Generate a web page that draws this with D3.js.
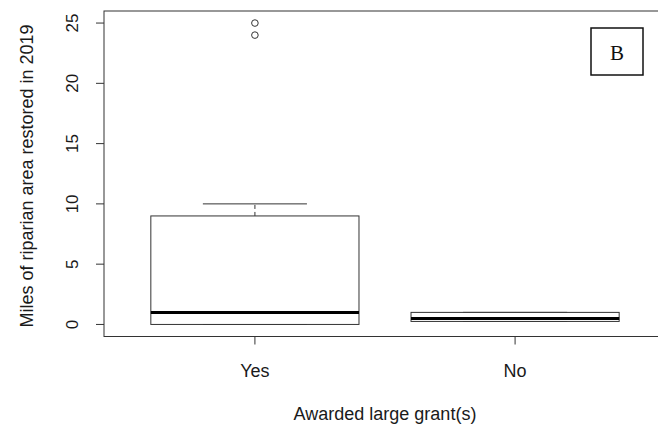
<!DOCTYPE html>
<html><head><meta charset="utf-8">
<script src="https://cdn.jsdelivr.net/npm/d3@7"></script>
<style>body{margin:0;background:#fff}svg{display:block}text{font-family:"Liberation Sans",Arial,sans-serif}</style>
</head><body><svg id="c" width="658" height="430"></svg>
<script>
const categories = ["Yes", "No"];
const lowerWhisker = [0, 0.25];
const q1 = [0, 0.25];
const median = [1, 0.5];
const q3 = [9, 1];
const upperWhisker = [10, 1];
const outliers = [[25, 24], []];
const yTicks = [0, 5, 10, 15, 20, 25];

(function () {
const svg = d3.select("#c");
const pL = 104, pR = 666, pT = 11, pB = 336.5;
const x = d3.scaleLinear().domain([0.42, 2.58]).range([pL, pR]);
const y = d3.scaleLinear().domain([-1, 26]).range([pB, pT]);
const col = "#333";
const txt = "#1a1a1a";
const fs = 18;
const bw = 0.8;

categories.forEach((c, i) => {
  const xc = i + 1;
  const g = svg.append("g");
  g.append("line").attr("x1", x(xc)).attr("x2", x(xc)).attr("y1", y(q3[i])).attr("y2", y(upperWhisker[i]))
    .attr("stroke", col).attr("stroke-dasharray", "4,3");
  g.append("line").attr("x1", x(xc)).attr("x2", x(xc)).attr("y1", y(q1[i])).attr("y2", y(lowerWhisker[i]))
    .attr("stroke", col).attr("stroke-dasharray", "4,3");
  [lowerWhisker[i], upperWhisker[i]].forEach(v => {
    g.append("line").attr("x1", x(xc - bw / 4)).attr("x2", x(xc + bw / 4)).attr("y1", y(v)).attr("y2", y(v))
      .attr("stroke", col);
  });
  g.append("rect").attr("x", x(xc - bw / 2)).attr("width", x(xc + bw / 2) - x(xc - bw / 2))
    .attr("y", y(q3[i])).attr("height", y(q1[i]) - y(q3[i]))
    .attr("fill", "#fff").attr("stroke", col);
  g.append("line").attr("x1", x(xc - bw / 2)).attr("x2", x(xc + bw / 2)).attr("y1", y(median[i])).attr("y2", y(median[i]))
    .attr("stroke", "#000").attr("stroke-width", 3);
  g.selectAll("circle").data(outliers[i]).join("circle")
    .attr("cx", x(xc)).attr("cy", d => y(d)).attr("r", 3.3)
    .attr("fill", "none").attr("stroke", col);
});

svg.append("rect").attr("x", pL).attr("y", pT).attr("width", pR - pL).attr("height", pB - pT)
  .attr("fill", "none").attr("stroke", col);

const ya = svg.append("g").attr("transform", `translate(${pL},0)`);
yTicks.forEach(t => {
  ya.append("line").attr("x1", 0).attr("x2", -8).attr("y1", y(t)).attr("y2", y(t)).attr("stroke", col);
  ya.append("text").attr("transform", `translate(-26,${y(t)}) rotate(-90)`).attr("text-anchor", "middle")
    .attr("font-size", fs - 1).attr("fill", txt).text(t);
});

categories.forEach((c, i) => {
  svg.append("line").attr("x1", x(i + 1)).attr("x2", x(i + 1)).attr("y1", pB).attr("y2", pB + 8).attr("stroke", col);
  svg.append("text").attr("x", x(i + 1)).attr("y", 377).attr("text-anchor", "middle")
    .attr("font-size", fs).attr("fill", txt).text(c);
});

svg.append("text").attr("x", 385).attr("y", 420).attr("text-anchor", "middle").attr("font-size", fs).attr("fill", txt)
  .text("Awarded large grant(s)");
svg.append("text").attr("transform", `translate(33,176) rotate(-90)`).attr("text-anchor", "middle")
  .attr("font-size", fs).attr("fill", txt).text("Miles of riparian area restored in 2019");

svg.append("rect").attr("x", 591).attr("y", 28).attr("width", 52).attr("height", 47).attr("fill", "#fff").attr("stroke", "#111").attr("stroke-width", 1.5);
svg.append("text").attr("x", 617).attr("y", 59.5).attr("text-anchor", "middle").attr("font-size", 21)
  .style("font-family", "'Liberation Serif','Times New Roman',serif").attr("fill", "#111").text("B");
})();
</script></body></html>
